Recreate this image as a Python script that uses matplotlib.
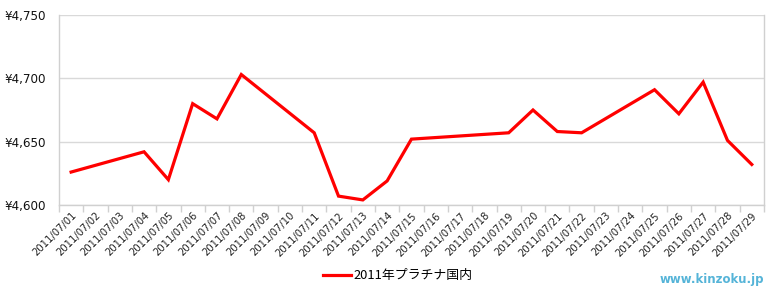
import numpy as np
import matplotlib
matplotlib.use("Agg")
import matplotlib.pyplot as plt
from matplotlib.ticker import FuncFormatter

plt.rcParams['font.family'] = ['DejaVu Sans', 'Noto Sans CJK JP']

# days of July 2011 shown on the axis
days = list(range(1, 30))
labels = ["2011/07/%02d" % d for d in days]

# trading days with prices
price_days = [1, 4, 5, 6, 7, 8, 11, 12, 13, 14, 15, 19, 20, 21, 22, 25, 26, 27, 28, 29]
prices = [4626, 4642, 4620, 4680, 4668, 4703, 4657, 4607, 4604, 4619, 4652,
          4657, 4675, 4658, 4657, 4691, 4672, 4697, 4651, 4632]

series_name = "2011年プラチナ国内"

fig = plt.figure(figsize=(7.8, 3.0), dpi=100)
ax = fig.add_axes([0.0756, 0.3167, 0.9038, 0.6333])

ax.plot(price_days, prices, color="#ff0000", linewidth=2.3, label=series_name,
        solid_joinstyle="miter")

ax.set_xlim(0.5, 29.5)
ax.set_ylim(4600, 4750)
ax.set_yticks([4600, 4650, 4700, 4750])
ax.yaxis.set_major_formatter(FuncFormatter(lambda v, p: "¥{:,.0f}".format(v)))

ax.set_xticks(days)
ax.set_xticklabels(labels, rotation=45, ha="right", va="top",
                   rotation_mode="anchor", fontsize=7.2, color="#222222")
ax.set_xticks(np.arange(0.5, 30.0, 1.0), minor=True)
ax.tick_params(axis="x", which="major", length=0, pad=4)
ax.tick_params(axis="x", which="minor", length=5, color="#d0d0d0", width=1)
ax.tick_params(axis="y", length=0, labelsize=8.6, pad=9,
               labelcolor="#111111")

ax.grid(axis="y", color="#d9d9d9", linewidth=1)
ax.set_axisbelow(True)
for side in ["top"]:
    ax.spines[side].set_visible(False)
for side in ["left", "bottom", "right"]:
    ax.spines[side].set_color("#d0d0d0")
    ax.spines[side].set_linewidth(1)

fig.legend(loc="center", bbox_to_anchor=(0.51, 0.08), frameon=False,
           handlelength=2.2, handletextpad=0.2,
           prop={"family": ["Noto Sans CJK JP"], "size": 9.3})

fig.text(0.98, 0.07, "www.kinzoku.jp", ha="right", va="center",
         color="#55b4d8", fontsize=8.5, fontweight="bold")

fig.savefig("out.png", dpi=100)
